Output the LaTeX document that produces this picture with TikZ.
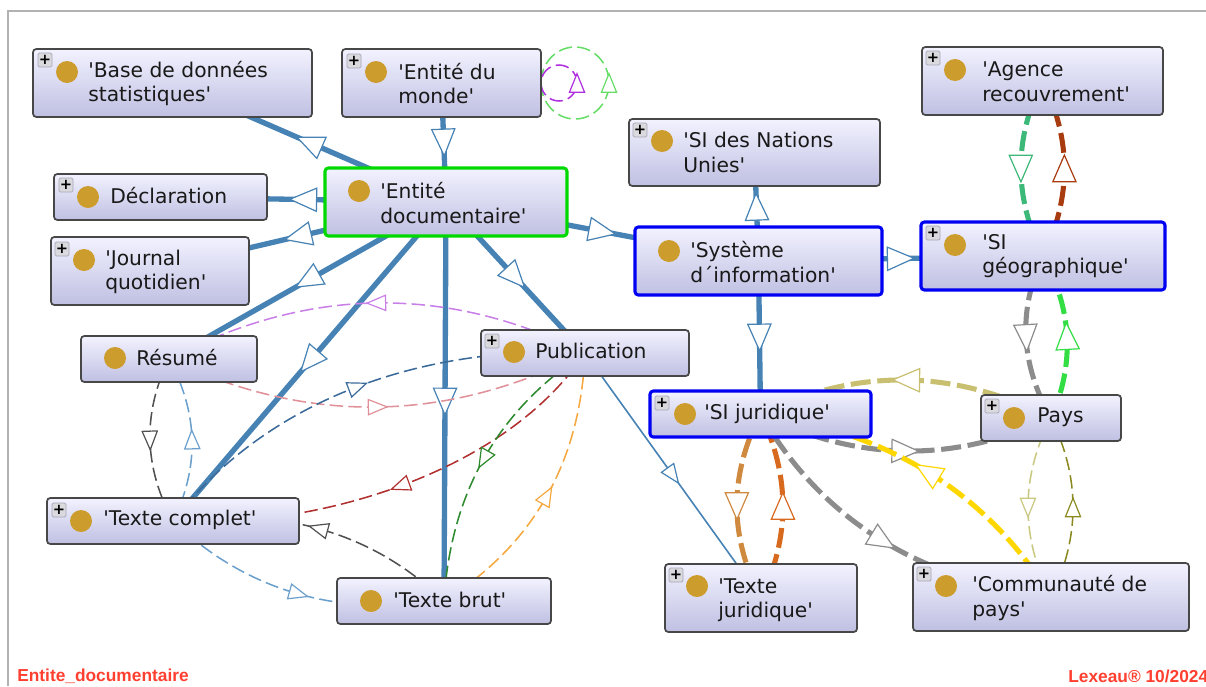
\documentclass[tikz,border=0pt]{standalone}
\usepackage{fontspec}
\newfontfamily\labelfont{DejaVu Sans}
\newfontfamily\footfont{Liberation Sans}
\usetikzlibrary{calc,decorations.markings}
\pgfdeclarelayer{bgl}
\pgfsetlayers{bgl,main}
\definecolor{steel}{HTML}{4682B4}
\definecolor{ochre}{HTML}{CC9C2C}
\definecolor{footred}{HTML}{FF4030}
\definecolor{loopgreen}{HTML}{66DD66}
\definecolor{loopviolet}{HTML}{B030E0}
\definecolor{lilac}{HTML}{C880E8}
\definecolor{rosered}{HTML}{E09098}
\definecolor{navyblue}{HTML}{3A6A9A}
\definecolor{darkred}{HTML}{B03030}
\definecolor{softorange}{HTML}{F5A840}
\definecolor{darkgreen}{HTML}{2D8A2D}
\definecolor{softgrey}{HTML}{505050}
\definecolor{paleblue}{HTML}{6CA0CC}
\definecolor{seagreen}{HTML}{3CB878}
\definecolor{brickbrown}{HTML}{A83C10}
\definecolor{midgrey}{HTML}{8C8C8C}
\definecolor{brightgreen}{HTML}{33DD44}
\definecolor{khaki}{HTML}{C8C070}
\definecolor{tan}{HTML}{D08A40}
\definecolor{burnt}{HTML}{D86A20}
\definecolor{gold}{HTML}{FFD700}
\definecolor{palekhaki}{HTML}{C8C880}
\definecolor{olive}{HTML}{8A8A20}
\tikzset{
  klassbox/.style={draw=black!72,line width=1.3pt,rounded corners=2.5pt,top color=white!95!blue,bottom color=blue!55!black!25!white,inner sep=0pt,outer sep=0pt},
  bluebox/.style={klassbox,draw=blue!95!black,line width=2.3pt},
  greenbox/.style={klassbox,draw=green!85!black,line width=2.3pt},
  dotnode/.style={circle,fill=ochre,inner sep=0pt,minimum size=16.5pt},
  plusnode/.style={draw=blue!20!black!35,fill=blue!15!black!15,line width=.6pt,rounded corners=1pt,inner sep=0pt,minimum size=10.5pt,font=\labelfont\fontsize{11}{11}\selectfont\bfseries},
  labelnode/.style={anchor=west,align=left,inner sep=0pt,text=black!90,font=\labelfont\fontsize{15.2}{18.4}\selectfont},
  bigarrow/.style={postaction={decorate,decoration={markings,mark=at position 0.5 with {\draw[solid,line width=.9pt,draw=#1,fill=white,line join=miter] (10pt,0pt)--(-10pt,-8.7pt)--(-10pt,8.7pt)--cycle;}}}},
  smallarrow/.style={postaction={decorate,decoration={markings,mark=at position 0.5 with {\draw[solid,line width=.9pt,draw=#1,fill=white,line join=miter] (7pt,0pt)--(-7pt,-5.7pt)--(-7pt,5.7pt)--cycle;}}}},
  heavy/.style={draw=#1,line width=4pt,bigarrow=#1},
  thickdash/.style={draw=#1,line width=3.8pt,dash pattern=on 15pt off 5pt,bigarrow=#1},
  thindash/.style={draw=#1,line width=1.15pt,dash pattern=on 10pt off 4pt,smallarrow=#1},
  thinline/.style={draw=#1,line width=1.2pt,smallarrow=#1},
}
\newcommand{\klass}[6]{\node[#2,minimum width={(#5-#3)*0.75pt},minimum height={(#6-#4)*0.75pt}] (#1) at ({(#3+#5)/2},{(#4+#6)/2}) {};}
\newcommand{\dotlabel}[6]{\node[dotnode] (#1-dot) at (#2,#3) {};\node[labelnode] (#1-text) at (#4,#5) {#6};}
\newcommand{\plusicon}[3]{\node[plusnode] (#1-plus) at (#2,#3) {+};}
\newcommand{\arcconn}[4]{\draw[#1] (#2.center) .. controls ($(#2.center)!0.667!(#4)$) and ($(#3.center)!0.667!(#4)$) .. (#3.center);}
\begin{document}
\begin{tikzpicture}[x=0.75pt,y=-0.75pt]
\useasboundingbox (0,0) rectangle (1206,686);
\coordinate (frameA) at (8,686);
\coordinate (frameB) at (8,11);
\coordinate (frameC) at (1206,11);
\draw[black!30,line width=2pt] (frameA) -- (frameB) -- (frameC);

\klass{base}{klassbox}{33}{49}{312}{117}
\klass{monde}{klassbox}{342}{49}{541}{117}
\klass{nations}{klassbox}{629}{119}{880}{186}
\klass{agence}{klassbox}{922}{47}{1163}{115}
\klass{ent}{greenbox}{325}{168}{567}{236}
\klass{decl}{klassbox}{54}{174}{267}{220}
\klass{journal}{klassbox}{51}{237}{249}{305}
\klass{sys}{bluebox}{635}{227}{882}{295}
\klass{geo}{bluebox}{921}{222}{1165}{290}
\klass{resume}{klassbox}{81}{336}{257}{382}
\klass{pub}{klassbox}{481}{330}{689}{376}
\klass{sijur}{bluebox}{650}{391}{871}{437}
\klass{pays}{klassbox}{981}{395}{1121}{441}
\klass{complet}{klassbox}{47}{498}{299}{544}
\klass{brut}{klassbox}{337}{578}{551}{624}
\klass{jur}{klassbox}{665}{564}{857}{632}
\klass{comm}{klassbox}{913}{563}{1189}{631}

\plusicon{base}{45}{60}
\plusicon{monde}{354}{61}
\plusicon{nations}{640}{130}
\plusicon{agence}{933}{58}
\plusicon{decl}{66}{185}
\plusicon{journal}{62}{249}
\plusicon{geo}{933}{233}
\plusicon{pub}{492}{341}
\plusicon{sijur}{662}{403}
\plusicon{pays}{992}{406}
\plusicon{complet}{59}{510}
\plusicon{jur}{676}{575}
\plusicon{comm}{924}{574}

\dotlabel{base}{67}{72}{88}{83.5}{'Base de données\\statistiques'}
\dotlabel{monde}{376}{72}{398}{83.5}{'Entité du\\monde'}
\dotlabel{nations}{662}{141}{683}{152.5}{'SI des Nations\\Unies'}
\dotlabel{agence}{955}{70}{982}{81.5}{'Agence\\recouvrement'}
\dotlabel{ent}{359}{191}{380}{203}{'Entité\\documentaire'}
\dotlabel{decl}{88}{197}{110}{196}{Déclaration}
\dotlabel{journal}{84}{260}{105}{272}{'Journal\\quotidien'}
\dotlabel{sys}{669}{251}{690}{262}{'Système\\d´information'}
\dotlabel{geo}{955}{245}{982}{256}{'SI\\géographique'}
\dotlabel{resume}{115}{358}{136}{358}{Résumé}
\dotlabel{pub}{514}{352}{535}{351}{Publication}
\dotlabel{sijur}{685}{414}{704}{414}{'SI juridique'}
\dotlabel{pays}{1014}{418}{1037}{417}{Pays}
\dotlabel{complet}{81}{521}{103}{520}{'Texte complet'}
\dotlabel{brut}{371}{601}{393}{600}{'Texte brut'}
\dotlabel{jur}{697}{586}{718}{600}{'Texte\\juridique'}
\dotlabel{comm}{946}{586}{972}{598}{'Communauté de\\pays'}

\node[anchor=west,inner sep=0pt,text=footred,font=\footfont\fontsize{13}{13}\selectfont\bfseries] (footL) at (17,676) {Entite\_documentaire};
\node[anchor=west,inner sep=0pt,text=footred,font=\footfont\fontsize{13}{13}\selectfont\bfseries] (footR) at (1068,676) {Lexeau® 10/2024};

\begin{pgfonlayer}{bgl}
\draw[heavy=steel] (ent.center) -- (base.center);
\draw[heavy=steel] (monde.center) -- (ent.center);
\draw[heavy=steel] (ent.center) -- (decl.center);
\draw[heavy=steel] (ent.center) -- (journal.center);
\draw[heavy=steel] (ent.center) -- (resume.center);
\draw[heavy=steel] (ent.center) -- (complet.center);
\draw[heavy=steel] (ent.center) -- (brut.center);
\draw[heavy=steel] (ent.center) -- (pub.center);
\draw[heavy=steel] (ent.center) -- (sys.center);
\draw[heavy=steel] (sys.center) -- (nations.center);
\draw[heavy=steel] (sys.center) -- (geo.center);
\draw[heavy=steel] (sys.center) -- (sijur.center);
\draw[thinline=steel] (pub.center) -- (jur.center);

\draw[thindash=loopgreen] (monde.east) arc[start angle=180,end angle=540,x radius=25.5pt,y radius=27pt];
\draw[thindash=loopviolet] (monde.east) arc[start angle=180,end angle=540,x radius=13.5pt,y radius=13.5pt];

\arcconn{thindash=lilac}{pub}{resume}{377,250}
\arcconn{thindash=rosered}{resume}{pub}{377,458}
\draw[thindash=navyblue] (complet.center) .. controls (270,395) and (430,345) .. (pub.center);
\draw[thindash=darkred] (pub.center) .. controls (500,480) and (300,530) .. (complet.center);
\arcconn{thindash=softorange}{brut}{pub}{578,517}
\arcconn{thindash=darkgreen}{pub}{brut}{454,439}
\arcconn{thindash=softgrey}{brut}{complet}{338,499}
\arcconn{thindash=paleblue}{complet}{brut}{282,625}
\arcconn{thindash=softgrey}{resume}{complet}{129,440}
\arcconn{thindash=paleblue}{complet}{resume}{213,440}

\arcconn{thickdash=seagreen}{agence}{geo}{999,168}
\arcconn{thickdash=brickbrown}{geo}{agence}{1086,168}
\arcconn{thickdash=midgrey}{geo}{pays}{1005,337}
\arcconn{thickdash=brightgreen}{pays}{geo}{1087,337}
\arcconn{thickdash=khaki}{pays}{sijur}{906,344}
\arcconn{thickdash=midgrey}{sijur}{pays}{905,486}
\arcconn{thickdash=tan}{sijur}{jur}{713,506}
\arcconn{thickdash=burnt}{jur}{sijur}{805,506}
\arcconn{thickdash=midgrey}{sijur}{comm}{851,571}
\arcconn{thickdash=gold}{comm}{sijur}{957,443}
\arcconn{thindash=palekhaki}{pays}{comm}{1005,507}
\arcconn{thindash=olive}{comm}{pays}{1095,507}
\end{pgfonlayer}
\end{tikzpicture}
\end{document}
